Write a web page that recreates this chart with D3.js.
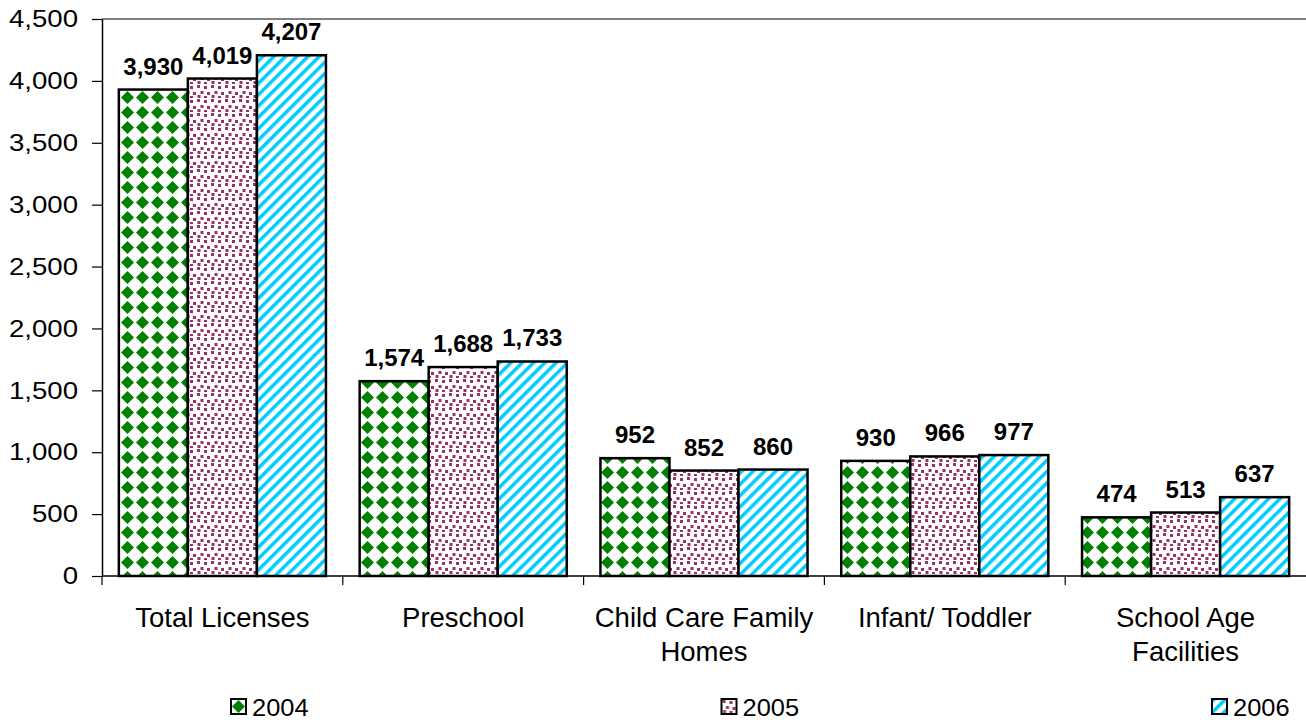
<!DOCTYPE html>
<html>
<head>
<meta charset="utf-8">
<script src="https://cdn.jsdelivr.net/npm/d3@7"></script>
<style>
  body { margin: 0; background: #fff; }
  text { font-family: Arial, "Liberation Sans", sans-serif; }
</style>
</head>
<body>
<div id="chart"></div>
<script>
// Chart data
const categories = ['Total Licenses', 'Preschool', 'Child Care Family\nHomes', 'Infant/ Toddler', 'School Age\nFacilities'];
const years = ['2004', '2005', '2006'];
const values2004 = [3930, 1574, 952, 930, 474];
const values2005 = [4019, 1688, 852, 966, 513];
const values2006 = [4207, 1733, 860, 977, 637];
const yTicks = [0, 500, 1000, 1500, 2000, 2500, 3000, 3500, 4000, 4500];

const seriesValues = [values2004, values2005, values2006];
const patternIds = ['pat-checker', 'pat-dots', 'pat-stripes'];

const width = 1306, height = 722;
const margin = {top: 19, right: 0, bottom: 146, left: 102};

const svg = d3.select('#chart')
    .append('svg')
    .attr('width', width)
    .attr('height', height)
    .attr('viewBox', [0, 0, width, height]);

// Fill patterns
const defs = svg.append('defs');

const checker = defs.append('pattern')
    .attr('id', 'pat-checker')
    .attr('patternUnits', 'userSpaceOnUse')
    .attr('width', 15).attr('height', 15);
checker.append('rect').attr('width', 15).attr('height', 15).attr('fill', '#fff');
checker.append('polygon')
    .attr('points', '7.5,1 14,7.5 7.5,14 1,7.5')
    .attr('fill', '#008000');

const dots = defs.append('pattern')
    .attr('id', 'pat-dots')
    .attr('patternUnits', 'userSpaceOnUse')
    .attr('width', 14).attr('height', 14);
dots.append('rect').attr('width', 14).attr('height', 14).attr('fill', '#fff');
[[1, 1], [8, 2], [4.5, 7], [11, 8], [1.5, 11], [8, 12]].forEach(p => {
    dots.append('rect')
        .attr('x', p[0]).attr('y', p[1])
        .attr('width', 3).attr('height', 3)
        .attr('fill', '#993366');
});

const stripes = defs.append('pattern')
    .attr('id', 'pat-stripes')
    .attr('patternUnits', 'userSpaceOnUse')
    .attr('width', 8).attr('height', 8)
    .attr('patternTransform', 'rotate(45)');
stripes.append('rect').attr('width', 8).attr('height', 8).attr('fill', '#fff');
stripes.append('rect').attr('width', 3.5).attr('height', 8).attr('fill', '#00CCFF');

// Scales
const x0 = d3.scaleBand()
    .domain(categories)
    .range([margin.left, width - margin.right])
    .padding(0);

const x1 = d3.scaleBand()
    .domain(years)
    .range([x0.bandwidth() * 0.07, x0.bandwidth() * 0.93])
    .padding(0);

const y = d3.scaleLinear()
    .domain([0, 4500])
    .range([height - margin.bottom, margin.top]);

const fmt = d3.format(',');

// Top border of plot area
svg.append('line')
    .attr('x1', margin.left).attr('x2', width)
    .attr('y1', y(4500)).attr('y2', y(4500))
    .attr('stroke', '#808080')
    .attr('stroke-width', 2);

// Y axis
svg.append('g')
    .attr('transform', `translate(${margin.left},0)`)
    .call(d3.axisLeft(y).tickValues(yTicks).tickFormat(fmt).tickSize(10).tickSizeOuter(0))
    .call(g => g.select('.domain').attr('stroke', '#000').attr('stroke-width', 1.5))
    .call(g => g.selectAll('.tick line').attr('stroke', '#000').attr('stroke-width', 1.2))
    .call(g => g.selectAll('.tick text')
        .attr('x', -24 / 1.15)
        .attr('transform', 'scale(1.15,1)')
        .attr('font-size', 24)
        .attr('fill', '#000'));

// Bars
const groups = svg.append('g')
    .selectAll('g')
    .data(years)
    .join('g')
    .attr('fill', (d, i) => `url(#${patternIds[i]})`);

groups.selectAll('rect')
    .data((yr, i) => seriesValues[i].map((v, j) => ({year: yr, cat: categories[j], value: v})))
    .join('rect')
    .attr('x', d => x0(d.cat) + x1(d.year))
    .attr('y', d => y(d.value))
    .attr('width', x1.bandwidth())
    .attr('height', d => y(0) - y(d.value))
    .attr('stroke', '#000')
    .attr('stroke-width', 2.5);

// Value labels
groups.selectAll('text')
    .data((yr, i) => seriesValues[i].map((v, j) => ({year: yr, cat: categories[j], value: v})))
    .join('text')
    .attr('x', d => x0(d.cat) + x1(d.year) + x1.bandwidth() / 2)
    .attr('y', d => y(d.value) - 15)
    .attr('text-anchor', 'middle')
    .attr('font-size', 24)
    .attr('font-weight', 'bold')
    .attr('fill', '#000')
    .text(d => fmt(d.value));

// X axis line and category separators
svg.append('line')
    .attr('x1', margin.left).attr('x2', width)
    .attr('y1', y(0)).attr('y2', y(0))
    .attr('stroke', '#000')
    .attr('stroke-width', 1.5);

svg.append('g')
    .selectAll('line')
    .data(categories)
    .join('line')
    .attr('x1', d => x0(d)).attr('x2', d => x0(d))
    .attr('y1', y(0)).attr('y2', y(0) + 9)
    .attr('stroke', '#000')
    .attr('stroke-width', 1.2);

// Category labels
svg.append('g')
    .selectAll('text')
    .data(categories)
    .join('text')
    .attr('x', d => x0(d) + x0.bandwidth() / 2)
    .attr('y', y(0) + 51)
    .attr('text-anchor', 'middle')
    .attr('font-size', 27.5)
    .attr('fill', '#000')
    .each(function(d) {
        const t = d3.select(this);
        d.split('\n').forEach((line, i) => {
            t.append('tspan')
                .attr('x', x0(d) + x0.bandwidth() / 2)
                .attr('dy', i === 0 ? 0 : 34)
                .text(line);
        });
    });

// Legend
const legend = svg.append('g')
    .selectAll('g')
    .data(years)
    .join('g')
    .attr('transform', (d, i) => `translate(${231 + i * 490.5},699)`);

legend.append('rect')
    .attr('width', 15).attr('height', 15)
    .attr('fill', (d, i) => `url(#${patternIds[i]})`)
    .attr('stroke', '#000')
    .attr('stroke-width', 2);

legend.append('text')
    .attr('transform', 'translate(21,17) scale(1.06,1)')
    .attr('font-size', 24)
    .attr('fill', '#000')
    .text(d => d);
</script>
</body>
</html>
